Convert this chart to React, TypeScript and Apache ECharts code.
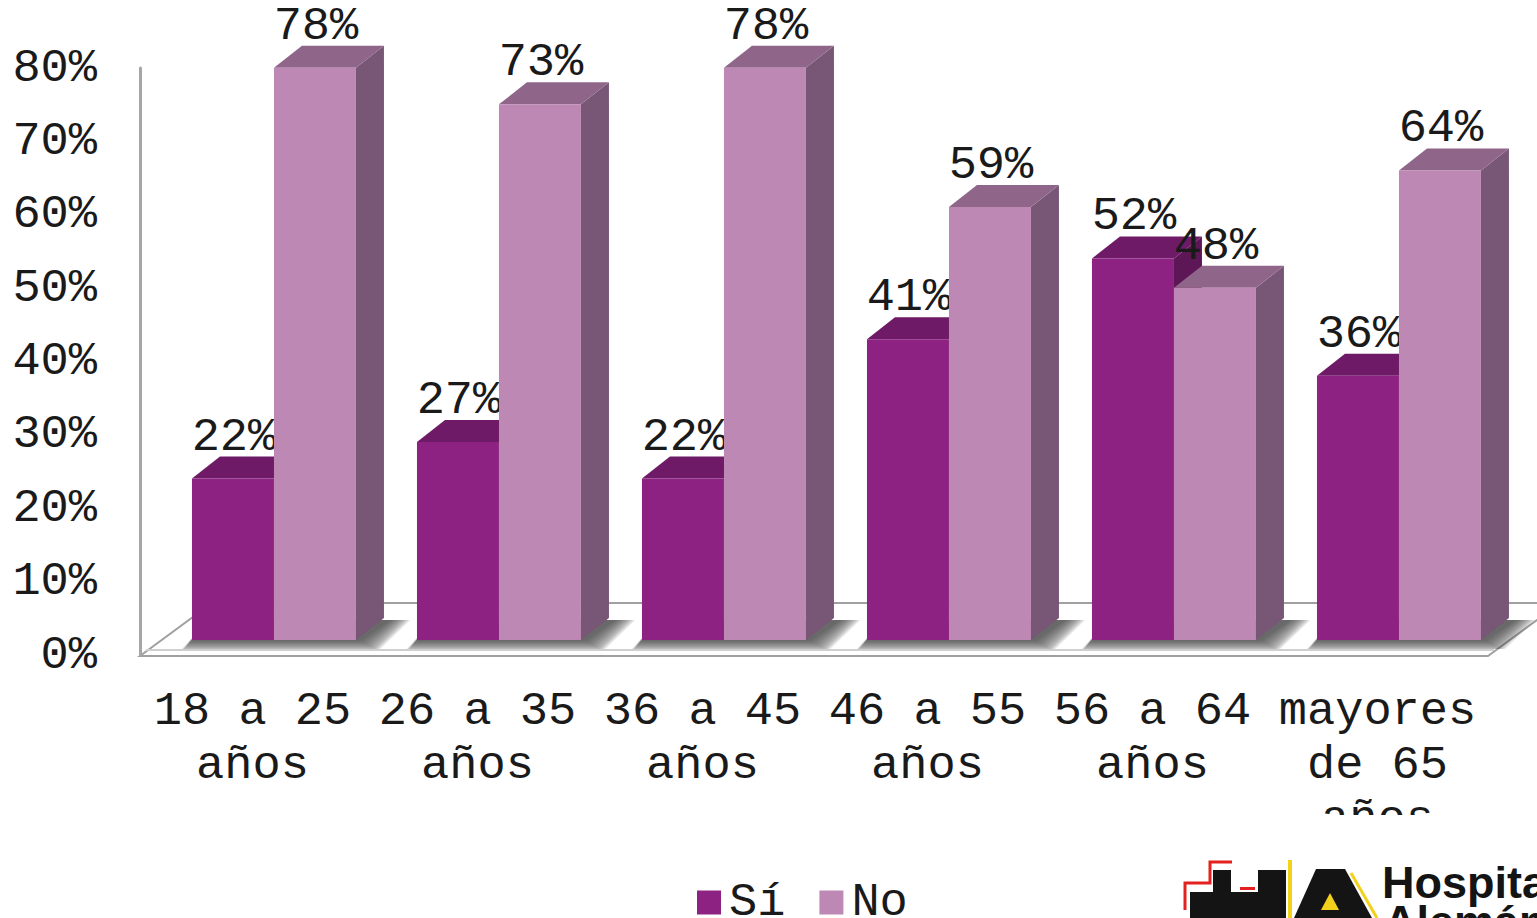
import React, { useEffect, useRef } from "react";
import * as echarts from "echarts";

const categories = [
  "18 a 25\naños",
  "26 a 35\naños",
  "36 a 45\naños",
  "46 a 55\naños",
  "56 a 64\naños",
  "mayores\nde 65\naños",
];
const siValues = [22, 27, 22, 41, 52, 36];
const noValues = [78, 73, 78, 59, 48, 64];
const seriesNames = ["Sí", "No"];
const yMin = 0;
const yMax = 80;
const yInterval = 10;

const FONT = '"Liberation Mono", "Courier New", monospace';
const BAR_W = 0.3644; // fraction of band
const BAR_OFF = -0.269; // fraction of band, left edge of first bar from category center
const LIFT = 15; // px, bars stand on a raised floor
const DX = 28;
const DY = -22;

const PALETTE = [
  { front: "#8E2282", top: "#6E1A66", side: "#5D1656" },
  { front: "#BD88B3", top: "#8F6689", side: "#775676" },
];

function makeRender(kind: number) {
  const c = PALETTE[kind];
  return (params: any, api: any) => {
    const idx = api.value(0);
    const val = api.value(1);
    const topPt = api.coord([idx, val]);
    const basePt = api.coord([idx, 0]);
    const band = api.size([1, 0])[0];
    const w = band * BAR_W;
    const x0 = topPt[0] + band * BAR_OFF + (kind === 1 ? w : 0);
    const x1 = x0 + w;
    const yT = topPt[1] - LIFT;
    const yB = basePt[1] - LIFT;
    return {
      type: "group",
      children: [
        {
          type: "polygon",
          shape: { points: [[x1, yT], [x1 + DX, yT + DY], [x1 + DX, yB + DY], [x1, yB]] },
          style: { fill: c.side },
        },
        {
          type: "polygon",
          shape: { points: [[x0, yT], [x1, yT], [x1 + DX, yT + DY], [x0 + DX, yT + DY]] },
          style: { fill: c.top },
        },
        {
          type: "rect",
          shape: { x: x0, y: yT, width: w, height: yB - yT },
          style: { fill: c.front },
        },
        {
          type: "text",
          x: (x0 + x1) / 2 + 1,
          y: yT + DY + 4,
          z2: 100,
          style: {
            text: val + "%",
            font: `47px ${FONT}`,
            fill: "#1a1a1a",
            align: "center",
            verticalAlign: "bottom",
            textAlign: "center",
            textVerticalAlign: "bottom",
          },
        },
      ],
    };
  };
}

function renderShadow(params: any, api: any) {
  const idx = api.value(0);
  const basePt = api.coord([idx, 0]);
  const band = api.size([1, 0])[0];
  const w = band * BAR_W;
  const x0 = basePt[0] + band * BAR_OFF;
  const x1 = x0 + 2 * w;
  const yB = basePt[1] - LIFT;
  const layers: any[] = [];
  for (let k = 0; k < 14; k++) {
    const e = 1 + k * 1.5;
    layers.push({
      type: "polygon",
      shape: {
        points: [
          [x0 - 2 - e * 0.4, yB + Math.min(e * 0.6, 9)],
          [x1 + 4 + e, yB + Math.min(e * 0.6, 9)],
          [x1 + DX + 6 + e, yB + DY + 2],
          [x0 + DX - 6 - e * 0.3, yB + DY + 2],
        ],
      },
      style: { fill: "rgba(55,55,55,0.09)" },
    });
  }
  return { type: "group", children: layers };
}

export default function App() {
  const ref = useRef<HTMLDivElement>(null);
  useEffect(() => {
    const chart = echarts.init(ref.current!, null, { renderer: "svg" });
    const option: any = {
      animation: false,
      backgroundColor: "#ffffff",
      grid: { left: 140, right: 47, top: 68, bottom: 263, containLabel: false },
      xAxis: {
        type: "category",
        data: categories,
        axisLine: { show: false },
        axisTick: { show: false },
        splitLine: { show: false },
        axisLabel: {
          interval: 0,
          margin: 29,
          fontFamily: FONT,
          fontSize: 47,
          lineHeight: 54,
          color: "#1a1a1a",
        },
      },
      yAxis: {
        type: "value",
        min: yMin,
        max: yMax,
        interval: yInterval,
        axisLine: { show: true, lineStyle: { color: "#A6A6A6", width: 3 } },
        axisTick: { show: false },
        splitLine: { show: false },
        axisLabel: {
          margin: 43,
          formatter: "{value}%",
          fontFamily: FONT,
          fontSize: 47,
          color: "#1a1a1a",
        },
      },
      legend: {
        data: seriesNames,
        left: 692,
        top: 874,
        icon: "rect",
        itemWidth: 24,
        itemHeight: 24,
        itemGap: 34,
        textStyle: { fontFamily: FONT, fontSize: 47, color: "#1a1a1a", padding: [0, 0, 0, 3] },
      },
      graphic: [
        {
          type: "polygon",
          z: 0,
          shape: { points: [[140, 656], [1488, 656], [1560, 603], [212, 603]] },
          style: { fill: "#ffffff", stroke: "#A0A0A0", lineWidth: 2 },
        },
        {
          type: "line",
          z: 0,
          shape: { x1: 146, y1: 650, x2: 1494, y2: 650 },
          style: { stroke: "#CFCFCF", lineWidth: 2 },
        },
        {
          type: "rect",
          z: 50,
          shape: { x: 1255, y: 815, width: 260, height: 45 },
          style: { fill: "#ffffff" },
        },
        // logo
        {
          type: "group",
          z: 60,
          children: [
            {
              type: "polyline",
              shape: { points: [[1232, 862], [1210, 862], [1210, 883], [1185, 883], [1185, 910]] },
              style: { stroke: "#E3221F", lineWidth: 3, fill: "none" },
            },
            { type: "rect", shape: { x: 1190, y: 892, width: 96, height: 26 }, style: { fill: "#141414" } },
            { type: "rect", shape: { x: 1213, y: 870, width: 18, height: 24 }, style: { fill: "#141414" } },
            { type: "rect", shape: { x: 1258, y: 870, width: 28, height: 24 }, style: { fill: "#141414" } },
            { type: "rect", shape: { x: 1240, y: 887, width: 15, height: 3 }, style: { fill: "#E3221F" } },
            { type: "rect", shape: { x: 1288, y: 860, width: 4, height: 58 }, style: { fill: "#F2D21B" } },
            {
              type: "polygon",
              shape: { points: [[1294, 918], [1316, 869], [1345, 869], [1372, 918]] },
              style: { fill: "#141414" },
            },
            {
              type: "polygon",
              shape: { points: [[1321, 910], [1330, 893], [1339, 910]] },
              style: { fill: "#F2D21B" },
            },
            {
              type: "line",
              shape: { x1: 1351, y1: 873, x2: 1377, y2: 918 },
              style: { stroke: "#F2D21B", lineWidth: 3 },
            },
            {
              type: "text",
              x: 1382,
              y: 860,
              style: {
                text: "Hospital",
                font: 'bold 45px "Liberation Sans", Arial, sans-serif',
                fill: "#141414",
                verticalAlign: "top",
                textVerticalAlign: "top",
              },
            },
            {
              type: "text",
              x: 1384,
              y: 899,
              style: {
                text: "Alemán",
                font: 'bold 45px "Liberation Sans", Arial, sans-serif',
                fill: "#141414",
                verticalAlign: "top",
                textVerticalAlign: "top",
              },
            },
          ],
        },
      ],
      series: [
        {
          type: "custom",
          name: "shadow",
          renderItem: renderShadow,
          data: siValues.map((v, i) => [i, 0]),
          z: 1,
          silent: true,
        },
        {
          type: "custom",
          name: seriesNames[0],
          renderItem: makeRender(0),
          itemStyle: { color: PALETTE[0].front },
          data: siValues.map((v, i) => [i, v]),
          z: 2,
        },
        {
          type: "custom",
          name: seriesNames[1],
          renderItem: makeRender(1),
          itemStyle: { color: PALETTE[1].front },
          data: noValues.map((v, i) => [i, v]),
          z: 3,
        },
      ],
    };
    chart.setOption(option);
    return () => chart.dispose();
  }, []);
  return (
    <div
      ref={ref}
      style={{ position: "fixed", left: 0, top: 0, width: 1537, height: 918, background: "#fff" }}
    />
  );
}
